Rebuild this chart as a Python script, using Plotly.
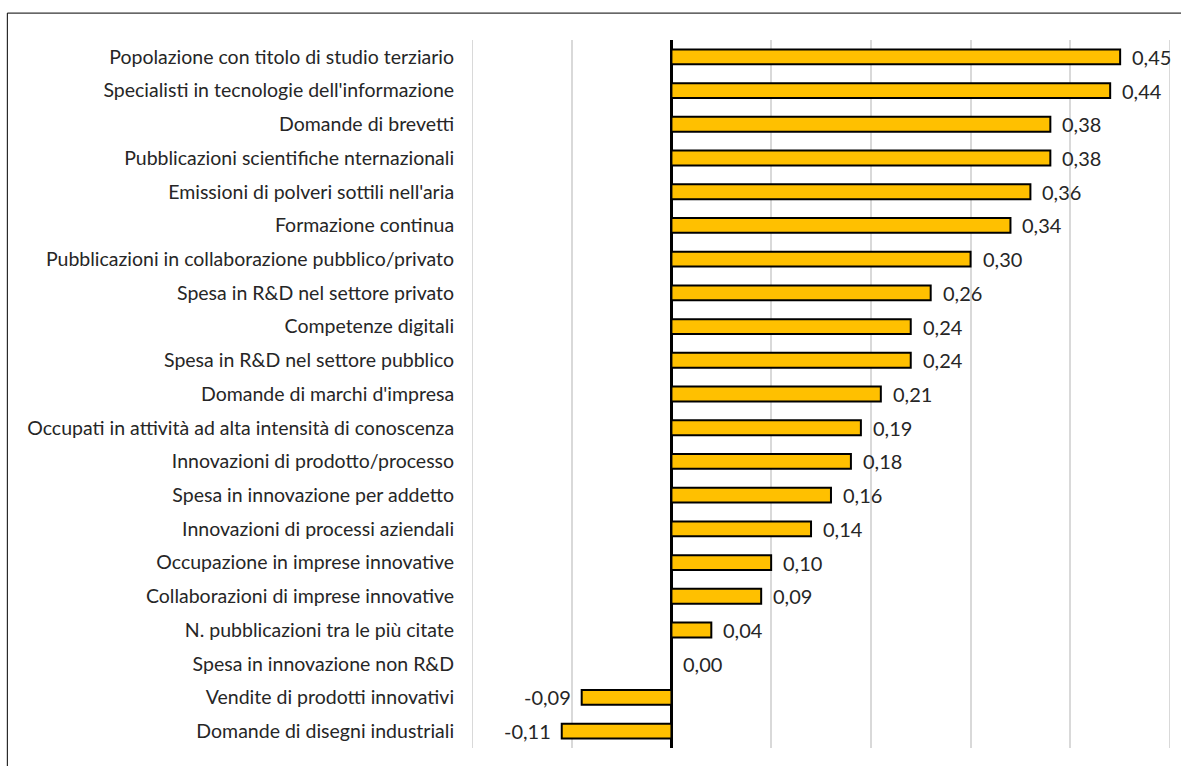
import plotly.graph_objects as go

categories = [
    "Popolazione con titolo di studio terziario",
    "Specialisti in tecnologie dell'informazione",
    "Domande di brevetti",
    "Pubblicazioni scientifiche nternazionali",
    "Emissioni di polveri sottili nell'aria",
    "Formazione continua",
    "Pubblicazioni in collaborazione pubblico/privato",
    "Spesa in R&D nel settore privato",
    "Competenze digitali",
    "Spesa in R&D nel settore pubblico",
    "Domande di marchi d'impresa",
    "Occupati in attività ad alta intensità di conoscenza",
    "Innovazioni di prodotto/processo",
    "Spesa in innovazione per addetto",
    "Innovazioni di processi aziendali",
    "Occupazione in imprese innovative",
    "Collaborazioni di imprese innovative",
    "N. pubblicazioni tra le più citate",
    "Spesa in innovazione non R&D",
    "Vendite di prodotti innovativi",
    "Domande di disegni industriali",
]
values = [0.45, 0.44, 0.38, 0.38, 0.36, 0.34, 0.30, 0.26, 0.24, 0.24, 0.21,
          0.19, 0.18, 0.16, 0.14, 0.10, 0.09, 0.04, 0.00, -0.09, -0.11]

X_MIN, X_MAX = -0.2, 0.5

FONT = "Lato, 'Open Sans', sans-serif"
TEXT = "#262626"
GRID = "#d9d9d9"

def fmt(v):
    return f"{v:.2f}".replace(".", ",")

fig = go.Figure(go.Bar(
    x=values, y=categories, orientation="h",
    marker=dict(color="#FFC000", line=dict(color="#000000", width=2)),
    width=0.44,
))

# value labels beside each bar end
for c, v in zip(categories, values):
    fig.add_annotation(
        x=v, y=c, text=fmt(v), showarrow=False,
        xanchor="left" if v >= 0 else "right",
        xshift=10 if v >= 0 else -9,
        font=dict(family=FONT, size=20, color=TEXT),
    )

# gridlines at the two ends of the axis range
for xv in (X_MIN, X_MAX):
    fig.add_shape(type="line", xref="x", yref="paper", x0=xv, x1=xv,
                  y0=0, y1=1, line=dict(color=GRID, width=2), layer="below")

# chart frame
fig.add_shape(type="rect", xref="paper", yref="paper",
              x0=-0.6657, x1=1.2, y0=-0.2, y1=1.038,
              line=dict(color="#000000", width=1), fillcolor="rgba(0,0,0,0)")

fig.update_layout(
    width=1181, height=766,
    margin=dict(l=472, r=11, t=40, b=18),
    plot_bgcolor="white", paper_bgcolor="white",
    showlegend=False,
    font=dict(family=FONT, size=19, color=TEXT),
    xaxis=dict(range=[X_MIN, X_MAX], dtick=0.1, tick0=0, showticklabels=False,
               showgrid=True, gridcolor=GRID, gridwidth=2,
               zeroline=True, zerolinecolor="#000000", zerolinewidth=3,
               showline=False, fixedrange=True),
    yaxis=dict(autorange="reversed", showgrid=False, showline=False,
               ticks="outside", ticklen=13, tickcolor="rgba(0,0,0,0)",
               tickfont=dict(family=FONT, size=19.5, color=TEXT)),
)

fig.write_html("out.html")
